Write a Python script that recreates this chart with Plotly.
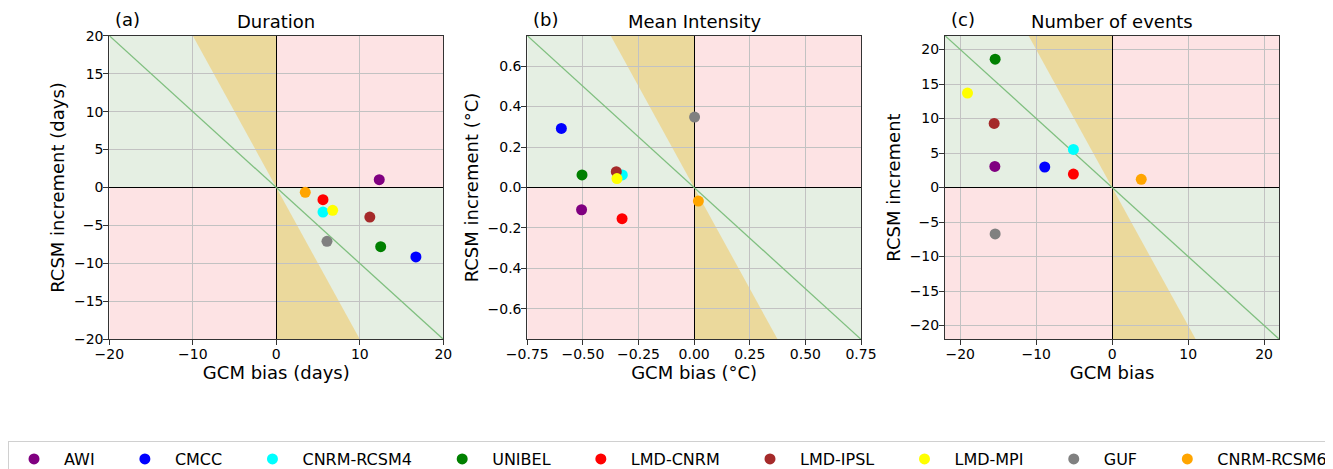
import plotly.graph_objects as go

# ---------------- data ----------------
models = ["AWI", "CMCC", "CNRM-RCSM4", "UNIBEL", "LMD-CNRM",
          "LMD-IPSL", "LMD-MPI", "GUF", "CNRM-RCSM6"]
colors = ["purple", "blue", "cyan", "green", "red",
          "brown", "yellow", "gray", "orange"]

dur_bias = [12.33, 16.72, 5.59, 12.5, 5.59, 11.2, 6.75, 6.07, 3.47]
dur_incr = [1.03, -9.15, -3.23, -7.79, -1.60, -3.89, -3.0, -7.09, -0.64]

int_bias = [-0.506, -0.597, -0.323, -0.504, -0.324, -0.350, -0.347, 0.002, 0.019]
int_incr = [-0.110, 0.292, 0.062, 0.062, -0.154, 0.078, 0.044, 0.348, -0.067]

num_bias = [-15.44, -8.87, -5.10, -15.40, -5.10, -15.53, -19.04, -15.40, 3.83]
num_incr = [3.06, 2.97, 5.52, 18.60, 1.95, 9.29, 13.68, -6.73, 1.18]

panel_titles = ["Duration", "Mean Intensity", "Number of events"]
panel_letters = ["(a)", "(b)", "(c)"]
x_titles = ["GCM bias (days)", "GCM bias (°C)", "GCM bias"]
y_titles = ["RCSM increment (days)", "RCSM increment (°C)", "RCSM increment"]
limits = [20, 0.75, 22]
x_ticks = [[-20, -10, 0, 10, 20],
           [-0.75, -0.5, -0.25, 0, 0.25, 0.5, 0.75],
           [-20, -10, 0, 10, 20]]
y_ticks = [[-20, -15, -10, -5, 0, 5, 10, 15, 20],
           [-0.6, -0.4, -0.2, 0, 0.2, 0.4, 0.6],
           [-20, -15, -10, -5, 0, 5, 10, 15, 20]]
x_dec = [0, 2, 0]
y_dec = [0, 1, 0]

# ---------------- styling ----------------
W, H = 1333, 469
OFF = 8  # page body margin offset of the figure inside the window
FONT = "DejaVu Sans"
PINK = "#fde3e4"
GREEN = "#e5efe3"
TAN = "#ebd99c"
DIAG = "#7fbf7f"
GRID = "#c2c2c2"

# plot areas in window pixels (left, right), common top/bottom
x_px = [(109.3, 443.3), (527.3, 861.0), (945.0, 1279.3)]
top_px, bot_px = 35.7, 339.3


def fx(px):
    return (px - OFF) / W


def fy(py):
    return 1 - (py - OFF) / H


def fmt(v, d):
    s = f"{abs(v):.{d}f}"
    return ("\u2212" + s) if v < 0 and abs(v) > 1e-12 else s


fig = go.Figure()
layout_axes = {}
shapes = []
annotations = []

panels = [(dur_bias, dur_incr), (int_bias, int_incr), (num_bias, num_incr)]

for p, (bx, by) in enumerate(panels):
    n = p + 1
    xa = "x" if n == 1 else f"x{n}"
    ya = "y" if n == 1 else f"y{n}"
    xkey = "xaxis" if n == 1 else f"xaxis{n}"
    ykey = "yaxis" if n == 1 else f"yaxis{n}"
    L = limits[p]
    dom_x = [fx(x_px[p][0]), fx(x_px[p][1])]
    dom_y = [fy(bot_px), fy(top_px)]

    common = dict(
        showgrid=True, gridcolor=GRID, gridwidth=1,
        zeroline=True, zerolinecolor="black", zerolinewidth=1,
        showline=True, mirror=True, linecolor="#333333", linewidth=1,
        ticks="outside", ticklen=5, tickcolor="#333333", tickwidth=1,
        ticklabelstandoff=-3,
        tickfont=dict(family=FONT, size=14, color="black"),
        title_font=dict(family=FONT, size=18, color="black"),
        fixedrange=True, automargin=False,
    )
    layout_axes[xkey] = dict(
        common, domain=dom_x, anchor=ya, range=[-L, L],
        tickmode="array", tickvals=x_ticks[p],
        ticktext=[fmt(v, x_dec[p]) for v in x_ticks[p]],
        title=dict(text=x_titles[p], standoff=0),
    )
    layout_axes[ykey] = dict(
        common, domain=dom_y, anchor=xa, range=[-L, L],
        tickmode="array", tickvals=y_ticks[p],
        ticktext=[fmt(v, y_dec[p]) for v in y_ticks[p]],
        title=dict(text=y_titles[p], standoff=4),
    )

    # quadrant backgrounds
    for (x0, x1, y0, y1, c) in [(0, L, 0, L, PINK), (-L, 0, -L, 0, PINK),
                                (-L, 0, 0, L, GREEN), (0, L, -L, 0, GREEN)]:
        shapes.append(dict(type="rect", xref=xa, yref=ya, x0=x0, x1=x1, y0=y0, y1=y1,
                           fillcolor=c, line=dict(width=0), layer="below"))
    # overshoot wedges (increment beyond -2 x bias)
    shapes.append(dict(type="path", xref=xa, yref=ya,
                       path=f"M 0 0 L 0 {L} L {-L/2} {L} Z",
                       fillcolor=TAN, line=dict(width=0), layer="below"))
    shapes.append(dict(type="path", xref=xa, yref=ya,
                       path=f"M 0 0 L 0 {-L} L {L/2} {-L} Z",
                       fillcolor=TAN, line=dict(width=0), layer="below"))
    # diagonal y = -x
    shapes.append(dict(type="line", xref=xa, yref=ya, x0=-L, y0=L, x1=L, y1=-L,
                       line=dict(color=DIAG, width=1.3), layer="between"))

    # titles
    xc = fx((x_px[p][0] + x_px[p][1]) / 2)
    annotations.append(dict(text=panel_titles[p], xref="paper", yref="paper",
                            x=xc, y=fy(21), xanchor="center", yanchor="middle",
                            showarrow=False, font=dict(family=FONT, size=18, color="black")))
    annotations.append(dict(text=panel_letters[p], xref="paper", yref="paper",
                            x=fx(x_px[p][0] + 18), y=fy(20), xanchor="center",
                            yanchor="middle", showarrow=False,
                            font=dict(family=FONT, size=18, color="black")))

    for i, m in enumerate(models):
        pad = "" if i == len(models) - 1 else "\u00a0\u00a0\u00a0\u2005"
        fig.add_trace(go.Scatter(
            x=[bx[i]], y=[by[i]], mode="markers", xaxis=xa, yaxis=ya,
            name=m + pad, legendgroup=m, showlegend=(p == 0),
            marker=dict(color=colors[i], size=11, line=dict(width=0)),
            hoverinfo="name+x+y",
        ))

fig.update_layout(
    width=W, height=H,
    margin=dict(l=0, r=0, t=0, b=0, autoexpand=False),
    paper_bgcolor="white", plot_bgcolor="white",
    font=dict(family=FONT, size=14, color="black"),
    shapes=shapes, annotations=annotations,
    showlegend=True,
    legend=dict(orientation="h", x=0.0, xanchor="left", y=fy(441), yanchor="top",
                bordercolor="#d0d0d0", borderwidth=1, bgcolor="white",
                font=dict(family=FONT, size=16, color="black"),
                itemwidth=50, tracegroupgap=0, indentation=-4),
    **layout_axes,
)

fig.write_html("out.html")
